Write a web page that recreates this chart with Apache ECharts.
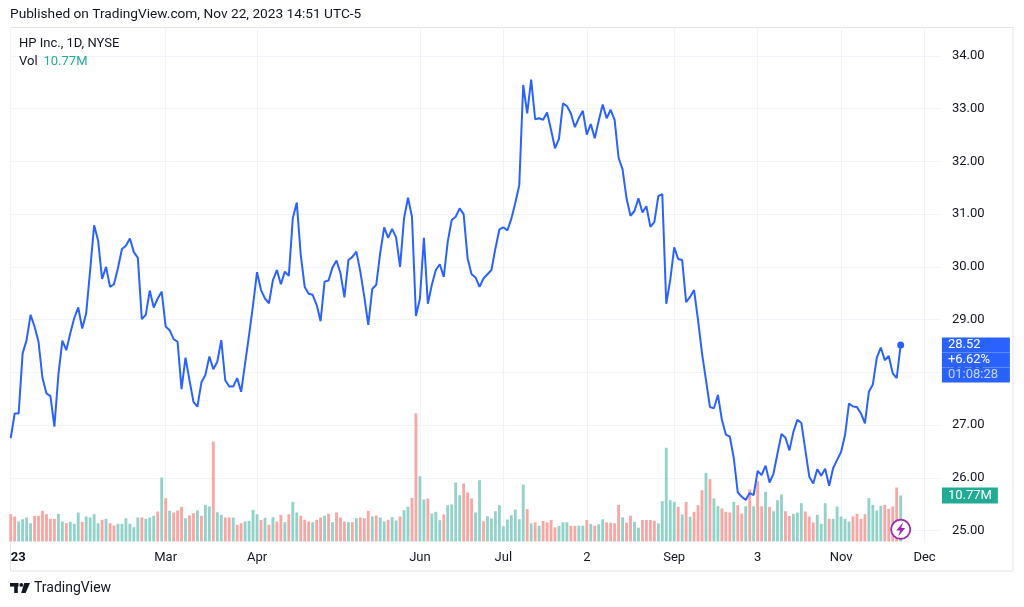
<!DOCTYPE html>
<html><head><meta charset="utf-8">
<script src="https://cdn.jsdelivr.net/npm/echarts@6/dist/echarts.min.js"></script>
<style>html,body{margin:0;padding:0;background:#fff}#c{width:1024px;height:607px}</style>
</head><body><div id="c"></div>
<script>
// ---- data ----
const closes = [26.75,27.22,27.22,28.36,28.61,29.09,28.87,28.58,27.89,27.60,
27.55,26.97,27.95,28.60,28.42,28.74,29.03,29.23,28.83,29.12,
29.94,30.79,30.50,29.77,30.00,29.62,29.67,29.98,30.34,30.40,
30.54,30.28,30.17,29.01,29.09,29.55,29.23,29.40,29.53,28.87,
28.80,28.63,28.58,27.68,28.28,27.85,27.44,27.35,27.81,27.95,
28.30,28.06,28.20,28.61,27.85,27.73,27.73,27.89,27.63,28.17,
28.71,29.28,29.90,29.56,29.40,29.31,29.75,29.94,29.67,29.91,
29.83,30.92,31.22,30.23,29.62,29.49,29.47,29.28,28.97,29.72,
29.74,29.99,30.12,29.88,29.42,30.13,30.19,30.29,29.91,29.43,
28.90,29.58,29.66,30.26,30.75,30.55,30.72,30.56,30.00,30.92,
31.31,30.95,29.07,29.40,30.55,29.30,29.66,29.94,30.05,29.81,
30.48,30.89,30.95,31.11,31.00,30.16,29.86,29.80,29.62,29.78,
29.86,29.94,30.35,30.71,30.75,30.69,30.91,31.21,31.55,33.45,
32.91,33.55,32.80,32.82,32.79,32.93,32.60,32.25,32.43,33.10,
33.05,32.91,32.65,32.82,32.96,32.51,32.71,32.44,32.77,33.08,
32.82,32.98,32.79,32.07,31.85,31.30,30.97,31.06,31.30,31.03,
31.15,30.76,30.85,31.34,31.38,29.30,29.75,30.37,30.15,30.13,
29.33,29.43,29.56,28.99,28.36,27.85,27.34,27.32,27.57,27.10,
26.82,26.78,26.37,25.72,25.64,25.58,25.71,25.67,26.13,26.05,
26.23,25.91,26.08,26.46,26.83,26.76,26.52,26.87,27.10,27.04,
26.53,26.02,25.89,26.16,26.04,26.17,25.85,26.18,26.34,26.49,
26.81,27.41,27.35,27.34,27.22,27.03,27.63,27.77,28.28,28.47,
28.23,28.31,27.98,27.89,28.52];

const volumes = [6.39,5.85,4.68,5.22,5.62,4.28,6.02,6.02,7.19,6.39,
5.31,5.31,6.48,4.68,4.28,4.61,4.14,6.79,4.61,5.85,
5.62,6.39,4.28,5.08,5.31,4.28,3.75,4.14,4.14,5.45,
4.14,3.35,5.62,5.62,5.31,5.62,6.02,7.02,14.98,10.14,
7.19,6.79,7.26,8.12,5.45,6.09,6.62,7.26,6.02,8.59,
8.19,23.41,6.86,6.25,5.62,5.62,5.62,3.91,4.28,4.68,
4.85,7.42,6.39,5.08,5.55,3.91,5.69,4.68,6.25,4.52,
6.39,9.29,6.79,6.02,5.08,4.68,4.52,5.08,5.62,6.02,
6.48,4.52,6.79,5.62,4.68,4.52,4.52,5.45,5.62,5.45,
7.19,5.85,6.09,5.62,4.68,5.08,5.69,4.92,5.85,7.33,
8.12,10.23,29.96,15.29,9.83,10.07,6.55,6.95,4.99,6.32,
8.50,8.66,13.81,10.84,13.58,11.47,10.07,6.79,14.35,4.75,
5.92,5.38,7.09,8.50,3.58,5.15,6.16,7.49,5.22,13.34,
7.58,4.24,4.49,3.70,4.80,4.49,5.03,3.32,3.63,4.49,
4.49,3.70,3.63,3.70,3.70,5.03,4.10,3.70,4.03,5.20,
4.49,4.40,4.26,8.54,5.66,4.40,6.04,4.63,3.23,5.03,
5.03,5.03,4.87,4.24,9.43,21.94,9.67,9.29,8.12,6.32,
9.29,5.78,6.95,8.50,12.01,16.08,14.58,10.07,8.26,7.73,
6.95,6.79,9.29,8.50,6.55,8.26,12.17,8.26,14.12,8.26,
11.63,8.12,7.09,9.67,11.00,7.09,5.97,6.48,6.79,8.97,
7.02,5.85,4.45,6.25,4.14,8.97,5.31,5.31,8.19,5.85,
5.31,4.68,5.85,6.48,5.31,6.39,10.14,8.59,7.26,8.36,
8.59,7.65,8.19,12.64,10.77];

const volUp = [0,0,1,1,1,1,0,0,0,0, 0,0,1,1,0,1,1,1,0,1,
1,1,1,0,1,0,0,1,1,1, 1,1,1,0,1,1,1,0,1,0,
1,0,0,0,1,0,0,1,0,1, 1,0,1,1,0,0,1,0,0,1,
1,1,1,0,1,0,1,0,0,1, 0,1,1,0,0,0,1,0,0,1,
0,1,0,0,0,1,0,1,0,0, 0,1,0,1,1,0,1,1,0,1,
1,0,0,1,1,0,1,1,1,0, 1,1,1,1,0,0,0,1,1,0,
1,1,1,1,1,1,1,1,1,1, 0,1,0,1,0,0,0,0,1,1,
1,0,0,1,1,0,1,0,1,1, 0,0,0,0,1,0,0,1,1,0,
0,0,0,1,1,1,1,1,0,1, 0,1,0,0,0,1,0,1,1,0,
0,0,1,0,0,1,0,1,0,0, 1,0,1,1,1,0,0,1,1,1,
0,0,0,1,1,1,0,1,1,1, 1,1,0,0,0,0,1,1,1,1,
0,0,0,0,1];

const holidays = ['2023-01-02','2023-01-16','2023-02-20','2023-04-07','2023-05-29','2023-06-19','2023-07-04','2023-09-04','2023-11-23'];
const firstDay = '2023-01-03';
const lastAxisDay = '2023-12-07';
const tickLabels = {'2023-01-03':'23','2023-03-01':'Mar','2023-04-03':'Apr','2023-06-01':'Jun','2023-07-03':'Jul',
  '2023-08-02':'2','2023-09-01':'Sep','2023-10-03':'3','2023-11-01':'Nov','2023-12-01':'Dec'};
const lastPrice = 28.52, lastChange = '+6.62%', countdown = '01:08:28', lastVolLabel = '10.77M';
const headerText = 'Published on TradingView.com, Nov 22, 2023 14:51 UTC-5';
const titleText = 'HP Inc., 1D, NYSE';

// ---- trading-day categories ----
const dates = [];
(function(){
  const d = new Date(firstDay + 'T00:00:00Z');
  const end = new Date(lastAxisDay + 'T00:00:00Z');
  while (d <= end) {
    const s = d.toISOString().slice(0,10);
    const wd = d.getUTCDay();
    if (wd !== 0 && wd !== 6 && holidays.indexOf(s) < 0) dates.push(s);
    d.setUTCDate(d.getUTCDate() + 1);
  }
})();

const UP = '#92d2c9', DOWN = '#f7a8a5', BLUE = '#2962ff', TEXT = '#131722', GRID = '#f0f3fa', FRAME = '#e0e3eb';
const FONT = 'Roboto, "Noto Sans", sans-serif';
const NOLINE = {color: 'rgba(0,0,0,0)', width: 1, opacity: 1};

const lineData = closes.map((v, i) => i === closes.length - 1 ? {value: v, symbol: 'circle', symbolSize: 7} : v);
const barData = volumes.map((v, i) => ({value: v, itemStyle: {color: volUp[i] ? UP : DOWN}}));

const chart = echarts.init(document.getElementById('c'), null, {renderer: 'canvas'});
const isTick = (idx, val) => tickLabels[val] !== undefined;

chart.setOption({
  animation: false,
  backgroundColor: '#ffffff',
  textStyle: {fontFamily: FONT},
  grid: {left: 10.7, right: 83.6, top: 27, bottom: 65.5, containLabel: false, outerBoundsMode: 'none'},
  xAxis: {
    type: 'category', data: dates, boundaryGap: false,
    axisLine: {show: false}, axisTick: {show: false},
    axisLabel: {
      interval: isTick, margin: 10, color: TEXT, fontSize: 13, fontFamily: FONT,
      formatter: (val) => val === firstDay ? '{y|' + tickLabels[val] + '}' : tickLabels[val],
      rich: {y: {fontWeight: 'bold', fontSize: 13, color: TEXT, fontFamily: FONT, padding: [0, 0, 0, 15]}}
    },
    splitLine: {show: true, interval: isTick, lineStyle: {color: GRID, width: 1}}
  },
  yAxis: [{
    type: 'value', position: 'right', min: 24.791, max: 34.55, splitNumber: 10, scale: true,
    axisLine: {show: false}, axisTick: {show: false},
    axisLabel: {color: TEXT, fontSize: 13, margin: 11.5, fontFamily: FONT, showMinLabel: false, showMaxLabel: false,
      formatter: v => v.toFixed(2)},
    splitLine: {show: true, showMinLine: false, showMaxLine: false, lineStyle: {color: GRID, width: 1}}
  }, {
    type: 'value', min: 0, max: 120.45, show: false, splitLine: {show: false}
  }],
  series: [{
    type: 'bar', yAxisIndex: 1, data: barData, barWidth: '72%', z: 1,
    markLine: {
      silent: true, symbol: 'none', lineStyle: NOLINE,
      data: [{yAxis: volumes[volumes.length - 1]}],
      label: {show: true, opacity: 1, position: 'end', distance: 1.5, formatter: () => lastVolLabel, color: '#fff', fontSize: 13,
        fontFamily: FONT, backgroundColor: '#22ab94', padding: [2, 6, 1, 6], lineHeight: 13}
    }
  }, {
    type: 'line', yAxisIndex: 0, data: lineData, symbol: 'none', showSymbol: true, showAllSymbol: true,
    lineStyle: {color: BLUE, width: 2}, itemStyle: {color: BLUE}, z: 3,
    markLine: {
      silent: true, symbol: 'none', lineStyle: NOLINE,
      data: [{yAxis: lastPrice}],
      label: {
        show: true, opacity: 1, position: 'end', distance: 1.5,
        formatter: () => '{e|}\n{e|}\n{a|' + lastPrice.toFixed(2) + '}\n{a|' + lastChange + '}\n{c|' + countdown + '}',
        rich: {
          e: {height: 15, lineHeight: 15, width: 62, padding: [0, 0, 0, 6]},
          a: {height: 15, lineHeight: 15, width: 62, padding: [0, 0, 0, 6], backgroundColor: BLUE, color: '#fff', fontSize: 13, fontFamily: FONT},
          c: {height: 15, lineHeight: 15, width: 62, padding: [0, 0, 0, 6], backgroundColor: BLUE, color: 'rgba(255,255,255,0.72)', fontSize: 13, fontFamily: FONT}
        }
      }
    }
  }],
  graphic: [
    {type: 'rect', shape: {x: 10.5, y: 27.5, width: 1002.5, height: 543.5}, style: {fill: 'none', stroke: FRAME, lineWidth: 1}, z: 0, silent: true},
    {type: 'text', left: 10, top: 8, z: 10, style: {text: headerText, fill: TEXT, font: '13.7px ' + FONT}},
    {type: 'text', left: 19, top: 37, z: 10, style: {text: titleText, fill: TEXT, font: '13px ' + FONT}},
    {type: 'text', left: 19, top: 55, z: 10, style: {text: 'Vol', fill: TEXT, font: '13px ' + FONT}},
    {type: 'text', left: 43.5, top: 55, z: 10, style: {text: lastVolLabel, fill: '#22ab94', font: '13px ' + FONT}},
    // TradingView logo
    {type: 'group', left: 10, top: 583, children: [
      {type: 'rect', shape: {x: 0, y: 0, width: 8.5, height: 3.6}, style: {fill: TEXT}},
      {type: 'rect', shape: {x: 4.2, y: 0, width: 3.6, height: 10}, style: {fill: TEXT}},
      {type: 'circle', shape: {cx: 11.3, cy: 1.9, r: 1.9}, style: {fill: TEXT}},
      {type: 'polygon', shape: {points: [[14.2, 0], [20, 0], [15.6, 10], [11.2, 10]]}, style: {fill: TEXT}}
    ]},
    {type: 'text', left: 34, top: 581, style: {text: 'TradingView', fill: TEXT, font: '14px ' + FONT}},
    // lightning badge (circle centred at 900.7, 529.3)
    {type: 'circle', z: 10, silent: true, shape: {cx: 900.7, cy: 529.3, r: 9.6}, style: {fill: '#fff', stroke: '#9c27b0', lineWidth: 1.8}},
    {type: 'polygon', z: 11, silent: true,
      shape: {points: [[903.2, 522.3], [896.2, 530.6], [900.2, 530.6], [898.2, 536.4], [905.2, 528.1], [901.2, 528.1]]},
      style: {fill: '#9c27b0'}}
  ]
});
</script>
</body></html>
